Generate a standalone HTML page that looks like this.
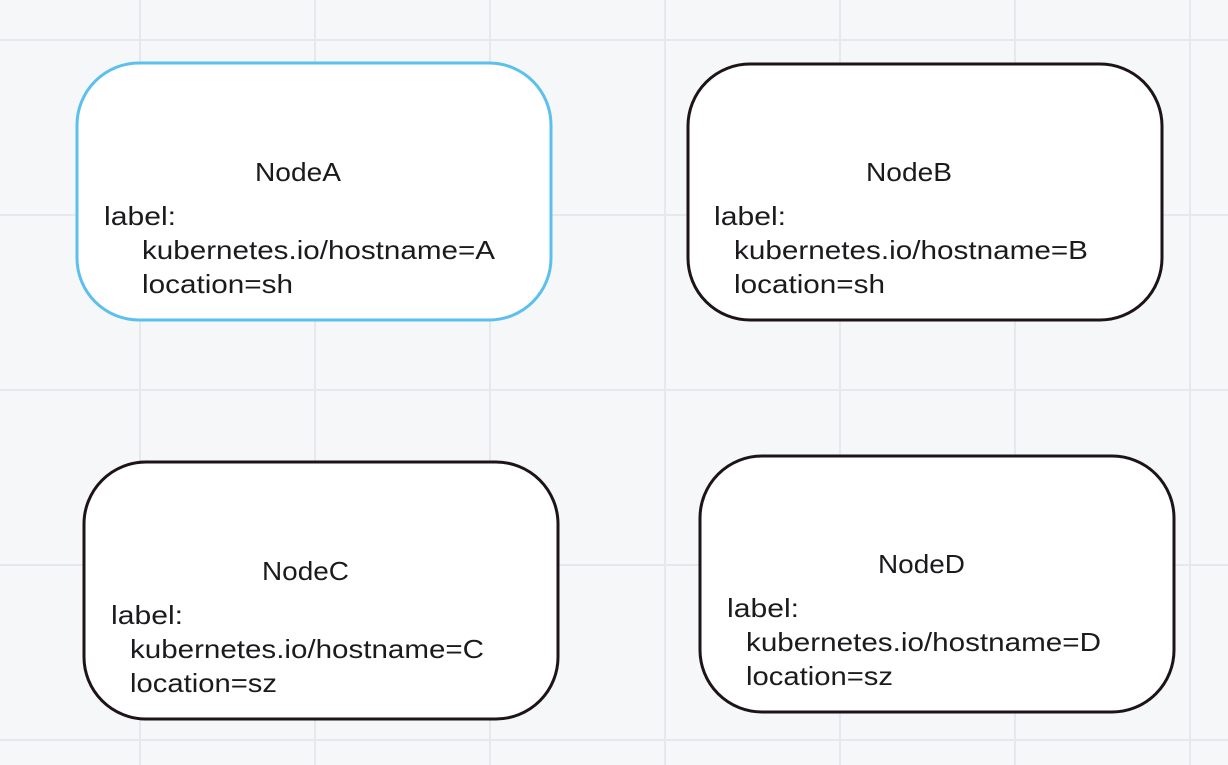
<!DOCTYPE html>
<html><head><style>
html,body{margin:0;padding:0;background:#f6f7f9;}
svg{display:block}
text{font-family:"Liberation Sans",sans-serif;font-size:26px;fill:#1c1a1d;}
</style></head><body>
<svg width="1228" height="765" viewBox="0 0 1228 765">
<rect width="1228" height="765" fill="#f6f7f9"/>
<g stroke="#e6e8eb" stroke-width="2">
<line x1="140" y1="0" x2="140" y2="765"/><line x1="315" y1="0" x2="315" y2="765"/>
<line x1="490" y1="0" x2="490" y2="765"/><line x1="665" y1="0" x2="665" y2="765"/>
<line x1="840" y1="0" x2="840" y2="765"/><line x1="1015" y1="0" x2="1015" y2="765"/>
<line x1="1190" y1="0" x2="1190" y2="765"/>
<line x1="0" y1="40" x2="1228" y2="40"/><line x1="0" y1="215" x2="1228" y2="215"/>
<line x1="0" y1="390" x2="1228" y2="390"/><line x1="0" y1="565" x2="1228" y2="565"/>
<line x1="0" y1="740" x2="1228" y2="740"/>
</g>
<rect x="77" y="63" width="474" height="257" rx="62" fill="#fff" stroke="#5bc0eb" stroke-width="3"/>
<rect x="688" y="64" width="474" height="256" rx="62" fill="#fff" stroke="#1c1418" stroke-width="3"/>
<rect x="84" y="462" width="474" height="257" rx="62" fill="#fff" stroke="#1c1418" stroke-width="3"/>
<rect x="700" y="456" width="474" height="256" rx="62" fill="#fff" stroke="#1c1418" stroke-width="3"/>

<g lengthAdjust="spacingAndGlyphs">
<text x="255" y="181" textLength="86" lengthAdjust="spacingAndGlyphs">NodeA</text>
<text x="104" y="225" textLength="72" lengthAdjust="spacingAndGlyphs">label:</text>
<text x="142" y="259" textLength="353" lengthAdjust="spacingAndGlyphs">kubernetes.io/hostname=A</text>
<text x="142" y="293" textLength="151" lengthAdjust="spacingAndGlyphs">location=sh</text>

<text x="866" y="181" textLength="86" lengthAdjust="spacingAndGlyphs">NodeB</text>
<text x="714" y="225" textLength="72" lengthAdjust="spacingAndGlyphs">label:</text>
<text x="734" y="259" textLength="354" lengthAdjust="spacingAndGlyphs">kubernetes.io/hostname=B</text>
<text x="734" y="293" textLength="151" lengthAdjust="spacingAndGlyphs">location=sh</text>

<text x="262" y="580" textLength="87" lengthAdjust="spacingAndGlyphs">NodeC</text>
<text x="111" y="624" textLength="72" lengthAdjust="spacingAndGlyphs">label:</text>
<text x="130" y="658" textLength="354" lengthAdjust="spacingAndGlyphs">kubernetes.io/hostname=C</text>
<text x="130" y="692" textLength="147" lengthAdjust="spacingAndGlyphs">location=sz</text>

<text x="878" y="573" textLength="87" lengthAdjust="spacingAndGlyphs">NodeD</text>
<text x="727" y="617" textLength="72" lengthAdjust="spacingAndGlyphs">label:</text>
<text x="746" y="651" textLength="355" lengthAdjust="spacingAndGlyphs">kubernetes.io/hostname=D</text>
<text x="746" y="685" textLength="147" lengthAdjust="spacingAndGlyphs">location=sz</text>
</g>
</svg>
</body></html>
